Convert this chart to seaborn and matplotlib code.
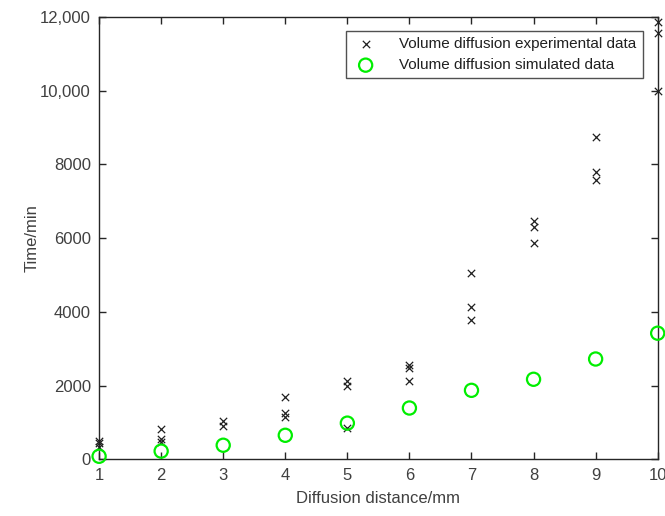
import matplotlib
matplotlib.use("Agg")
import matplotlib.pyplot as plt
import matplotlib.ticker as mticker
import pandas as pd
import seaborn as sns

sns.set_style("ticks")
plt.rcParams['font.family'] = ['Liberation Sans', 'DejaVu Sans']

# experimental data: three repeats per distance
exp_distance = [1, 1, 1, 2, 2, 2, 3, 3, 4, 4, 4, 5, 5, 5,
                6, 6, 6, 7, 7, 7, 8, 8, 8, 9, 9, 9, 10, 10, 10]
exp_time = [500, 450, 320, 815, 540, 460, 1030, 900, 1690, 1250, 1140,
            2120, 1980, 840, 2550, 2470, 2120, 5050, 4130, 3780,
            6470, 6300, 5870, 8750, 7800, 7580, 11860, 11560, 9990]

# simulated data
sim_distance = [1, 2, 3, 4, 5, 6, 7, 8, 9, 10]
sim_time = [80, 220, 380, 650, 980, 1390, 1870, 2170, 2720, 3420]

y_ticks = [0, 2000, 4000, 6000, 8000, 10000, 12000]

df_exp = pd.DataFrame({"distance": exp_distance, "time": exp_time})
df_sim = pd.DataFrame({"distance": sim_distance, "time": sim_time})

axis_color = "#262626"
text_color = "#404040"

fig = plt.figure(figsize=(6.65, 5.16), dpi=100)
ax = fig.add_axes([0.149, 0.110, 0.840, 0.857])

sns.scatterplot(data=df_exp, x="distance", y="time", ax=ax, marker="x",
                color="#202020", s=28, linewidth=0.9,
                label="Volume diffusion experimental data", clip_on=False, zorder=3)
sns.scatterplot(data=df_sim, x="distance", y="time", ax=ax, marker="o",
                facecolor="none", edgecolor="#00ee00", s=90, linewidth=1.6,
                label="Volume diffusion simulated data", clip_on=False, zorder=3)

ax.set_xlim(1, 10)
ax.set_ylim(0, 12000)
ax.set_xticks(sim_distance)
ax.set_yticks(y_ticks)
ax.yaxis.set_major_formatter(mticker.FuncFormatter(
    lambda v, p: f"{int(v):,}" if v >= 10000 else f"{int(v)}"))

for side in ["top", "right", "left", "bottom"]:
    ax.spines[side].set_visible(True)
    ax.spines[side].set_color(axis_color)
    ax.spines[side].set_linewidth(1.0)
ax.tick_params(direction="in", length=5, width=1.0, colors=axis_color,
               labelcolor=text_color, labelsize=12, top=True, right=True, pad=6)

ax.set_xlabel("Diffusion distance/mm", fontsize=12, color=text_color, labelpad=6)
ax.set_ylabel("Time/min", fontsize=12, color=text_color, labelpad=0)

leg = ax.legend(loc="upper right", bbox_to_anchor=(0.973, 0.968), fontsize=11,
                frameon=True, fancybox=False, edgecolor=axis_color,
                borderpad=0.4, borderaxespad=0, handletextpad=1.3,
                handlelength=1.8, labelspacing=0.45)
leg.get_frame().set_linewidth(1.0)
for t in leg.get_texts():
    t.set_color("#202020")

fig.savefig("out.png", dpi=100)
